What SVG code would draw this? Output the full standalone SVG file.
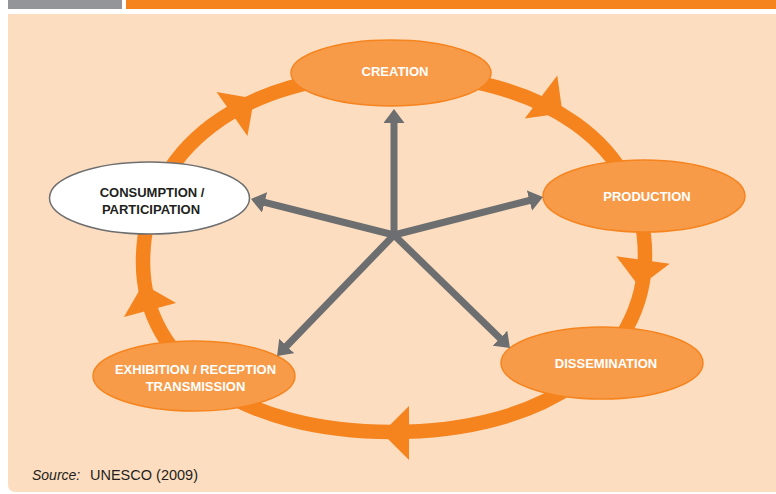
<svg xmlns="http://www.w3.org/2000/svg" width="776" height="494" viewBox="0 0 776 494">
<style>
.node{fill:#F89B48;stroke:#F5841F;stroke-width:1.5}
.wnode{fill:#FFFFFF;stroke:#6D6E70;stroke-width:1.5}
.lbl{font-family:"Liberation Sans",Arial,sans-serif;font-weight:bold;font-size:13px;text-anchor:middle;fill:#FFFFFF}
.dlbl{fill:#231F20}
.ring{fill:none;stroke:#F5841F;stroke-width:14.5}
.rh{fill:#F5841F}
.conn{stroke:#6D6E70;stroke-width:7;fill:none;marker-end:url(#ah)}
.src{font-family:"Liberation Sans",Arial,sans-serif;font-size:14.5px;fill:#231F20}
</style>
<defs>
<marker id="ah" markerUnits="userSpaceOnUse" viewBox="0 0 14 21" markerWidth="14" markerHeight="21" refX="4" refY="10.5" orient="auto">
<path d="M0,0 L14,10.5 L0,21 Z" fill="#6D6E70"/>
</marker>
<path id="rhead" d="M0,-27 L27,0 L0,27 Z"/>
</defs>
<rect x="0" y="0" width="776" height="494" fill="#FFFFFF"/>
<rect x="8" y="0" width="114" height="9" fill="#939598"/>
<rect x="126" y="0" width="650" height="9" fill="#F5841F"/>
<path d="M8,14 H786 V492 H16 Q8,492 8,484 Z" fill="#FDDDBF"/>
<g id="cycle">
<path class="ring" d="M392,74 C544,74 645,146 645,255 C645,361 544,432 392,432 C243,432 143,364 143,262 C143,149 243,74 392,74 Z"/>
<use href="#rhead" class="rh" transform="translate(232,114) rotate(-35)"/>
<use href="#rhead" class="rh" transform="translate(541,97) rotate(37)"/>
<use href="#rhead" class="rh" transform="translate(643,260) rotate(98)"/>
<use href="#rhead" class="rh" transform="translate(409,433) rotate(180)"/>
<use href="#rhead" class="rh" transform="translate(150,310) rotate(-105)"/>
</g>
<g id="creation"><ellipse class="node" cx="391" cy="73" rx="100" ry="33"/><text class="lbl" x="395" y="76">CREATION</text></g>
<g id="production"><ellipse class="node" cx="644" cy="196" rx="101" ry="36"/><text class="lbl" x="647" y="201">PRODUCTION</text></g>
<g id="dissemination"><ellipse class="node" cx="602" cy="363" rx="101" ry="36"/><text class="lbl" x="606" y="368">DISSEMINATION</text></g>
<g id="exhibition"><ellipse class="node" cx="194" cy="376" rx="101" ry="35"/><text class="lbl" x="195.5" y="374">EXHIBITION / RECEPTION</text><text class="lbl" x="195.5" y="391">TRANSMISSION</text></g>
<g id="consumption"><ellipse class="wnode" cx="149.5" cy="198" rx="100" ry="36"/><text class="lbl dlbl" x="152" y="197">CONSUMPTION /</text><text class="lbl dlbl" x="151" y="214">PARTICIPATION</text></g>
<g id="connectors">
<line class="conn" x1="394" y1="238" x2="394" y2="119"/>
<line class="conn" x1="394" y1="235" x2="260.7" y2="201.4"/>
<line class="conn" x1="394" y1="235" x2="533.3" y2="199.5"/>
<line class="conn" x1="394" y1="235" x2="284" y2="348.8"/>
<line class="conn" x1="394" y1="235" x2="502.8" y2="341"/>
</g>
<text class="src" x="32" y="480"><tspan font-style="italic" font-size="14px">Source:</tspan><tspan x="90">UNESCO (2009)</tspan></text>
</svg>
